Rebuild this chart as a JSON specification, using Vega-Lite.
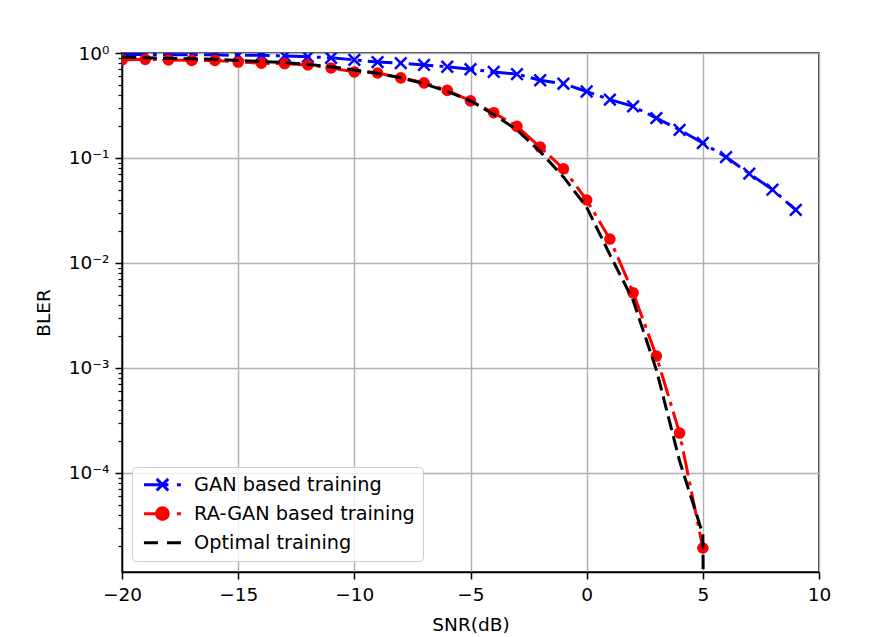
{
  "$schema": "https://vega.github.io/schema/vega-lite/v6.json",
  "width": 697,
  "height": 519,
  "autosize": {"type": "none"},
  "padding": {"left": 122, "top": 53, "right": 77, "bottom": 65},
  "background": "white",
  "config": {
    "font": "DejaVu Sans",
    "view": {"stroke": "black", "strokeWidth": 1.5},
    "legend": {
      "padding": 8,
      "fillColor": "rgba(255,255,255,0.8)",
      "strokeColor": "#cccccc",
      "strokeWidth": 1,
      "cornerRadius": 4,
      "labelFont": "DejaVu Sans",
      "labelFontSize": 19.3,
      "labelColor": "black",
      "labelLimit": 400,
      "symbolStrokeWidth": 3,
      "symbolSize": 100,
      "symbolOffset": 12.8,
      "labelOffset": 22,
      "rowPadding": 4,
      "gridAlign": "all",
      "symbolOpacity": 1
    }
  },
  "data": {
    "values": [
      {"series": "GAN based training", "snr": -20, "bler": 0.97},
      {"series": "GAN based training", "snr": -19, "bler": 0.97},
      {"series": "GAN based training", "snr": -18, "bler": 0.96},
      {"series": "GAN based training", "snr": -17, "bler": 0.96},
      {"series": "GAN based training", "snr": -16, "bler": 0.96},
      {"series": "GAN based training", "snr": -15, "bler": 0.95},
      {"series": "GAN based training", "snr": -14, "bler": 0.95},
      {"series": "GAN based training", "snr": -13, "bler": 0.94},
      {"series": "GAN based training", "snr": -12, "bler": 0.92},
      {"series": "GAN based training", "snr": -11, "bler": 0.9},
      {"series": "GAN based training", "snr": -10, "bler": 0.86},
      {"series": "GAN based training", "snr": -9, "bler": 0.82},
      {"series": "GAN based training", "snr": -8, "bler": 0.8},
      {"series": "GAN based training", "snr": -7, "bler": 0.77},
      {"series": "GAN based training", "snr": -6, "bler": 0.74},
      {"series": "GAN based training", "snr": -5, "bler": 0.7},
      {"series": "GAN based training", "snr": -4, "bler": 0.66},
      {"series": "GAN based training", "snr": -3, "bler": 0.63},
      {"series": "GAN based training", "snr": -2, "bler": 0.55},
      {"series": "GAN based training", "snr": -1, "bler": 0.51},
      {"series": "GAN based training", "snr": 0, "bler": 0.43},
      {"series": "GAN based training", "snr": 1, "bler": 0.36},
      {"series": "GAN based training", "snr": 2, "bler": 0.31},
      {"series": "GAN based training", "snr": 3, "bler": 0.24},
      {"series": "GAN based training", "snr": 4, "bler": 0.185},
      {"series": "GAN based training", "snr": 5, "bler": 0.139},
      {"series": "GAN based training", "snr": 6, "bler": 0.102},
      {"series": "GAN based training", "snr": 7, "bler": 0.071},
      {"series": "GAN based training", "snr": 8, "bler": 0.05},
      {"series": "GAN based training", "snr": 9, "bler": 0.032},
      {"series": "RA-GAN based training", "snr": -20, "bler": 0.86},
      {"series": "RA-GAN based training", "snr": -19, "bler": 0.87},
      {"series": "RA-GAN based training", "snr": -18, "bler": 0.86},
      {"series": "RA-GAN based training", "snr": -17, "bler": 0.85},
      {"series": "RA-GAN based training", "snr": -16, "bler": 0.85},
      {"series": "RA-GAN based training", "snr": -15, "bler": 0.82},
      {"series": "RA-GAN based training", "snr": -14, "bler": 0.8},
      {"series": "RA-GAN based training", "snr": -13, "bler": 0.79},
      {"series": "RA-GAN based training", "snr": -12, "bler": 0.77},
      {"series": "RA-GAN based training", "snr": -11, "bler": 0.72},
      {"series": "RA-GAN based training", "snr": -10, "bler": 0.66},
      {"series": "RA-GAN based training", "snr": -9, "bler": 0.645},
      {"series": "RA-GAN based training", "snr": -8, "bler": 0.58},
      {"series": "RA-GAN based training", "snr": -7, "bler": 0.52},
      {"series": "RA-GAN based training", "snr": -6, "bler": 0.44},
      {"series": "RA-GAN based training", "snr": -5, "bler": 0.35},
      {"series": "RA-GAN based training", "snr": -4, "bler": 0.27},
      {"series": "RA-GAN based training", "snr": -3, "bler": 0.2},
      {"series": "RA-GAN based training", "snr": -2, "bler": 0.127},
      {"series": "RA-GAN based training", "snr": -1, "bler": 0.079},
      {"series": "RA-GAN based training", "snr": 0, "bler": 0.0398},
      {"series": "RA-GAN based training", "snr": 1, "bler": 0.0169},
      {"series": "RA-GAN based training", "snr": 2, "bler": 0.0052},
      {"series": "RA-GAN based training", "snr": 3, "bler": 0.0013},
      {"series": "RA-GAN based training", "snr": 4, "bler": 0.00024},
      {"series": "RA-GAN based training", "snr": 5, "bler": 0.0000193},
      {"series": "Optimal training", "snr": -20, "bler": 0.91},
      {"series": "Optimal training", "snr": -19, "bler": 0.9},
      {"series": "Optimal training", "snr": -18, "bler": 0.89},
      {"series": "Optimal training", "snr": -17, "bler": 0.88},
      {"series": "Optimal training", "snr": -16, "bler": 0.87},
      {"series": "Optimal training", "snr": -15, "bler": 0.85},
      {"series": "Optimal training", "snr": -14, "bler": 0.83},
      {"series": "Optimal training", "snr": -13, "bler": 0.81},
      {"series": "Optimal training", "snr": -12, "bler": 0.78},
      {"series": "Optimal training", "snr": -11, "bler": 0.74},
      {"series": "Optimal training", "snr": -10, "bler": 0.69},
      {"series": "Optimal training", "snr": -9, "bler": 0.64},
      {"series": "Optimal training", "snr": -8, "bler": 0.58},
      {"series": "Optimal training", "snr": -7, "bler": 0.51},
      {"series": "Optimal training", "snr": -6, "bler": 0.43},
      {"series": "Optimal training", "snr": -5, "bler": 0.35},
      {"series": "Optimal training", "snr": -4, "bler": 0.26},
      {"series": "Optimal training", "snr": -3, "bler": 0.185},
      {"series": "Optimal training", "snr": -2, "bler": 0.115},
      {"series": "Optimal training", "snr": -1, "bler": 0.066},
      {"series": "Optimal training", "snr": 0, "bler": 0.034},
      {"series": "Optimal training", "snr": 1, "bler": 0.012},
      {"series": "Optimal training", "snr": 2, "bler": 0.0044},
      {"series": "Optimal training", "snr": 3, "bler": 0.00096},
      {"series": "Optimal training", "snr": 4, "bler": 0.00013},
      {"series": "Optimal training", "snr": 5, "bler": 0.000026},
      {"series": "Optimal training", "snr": 6, "bler": 1e-30}
    ]
  },
  "encoding": {
    "x": {
      "field": "snr",
      "type": "quantitative",
      "title": "SNR(dB)",
      "scale": {"domain": [-20, 10], "nice": false, "zero": false},
      "axis": {
        "values": [-20, -15, -10, -5, 0, 5, 10],
        "format": "d",
        "grid": true,
        "gridColor": "#b0b0b0",
        "gridWidth": 1.4,
        "tickSize": 7,
        "tickWidth": 1.5,
        "tickColor": "black",
        "domainColor": "black",
        "domainWidth": 1.5,
        "labelFontSize": 18.5,
        "labelColor": "black",
        "labelPadding": 6,
        "labelFlush": false,
        "labelOverlap": false,
        "titleFontSize": 18.5,
        "titleFontWeight": "normal",
        "titleColor": "black",
        "titleBaseline": "alphabetic",
        "titleY": 58
      }
    },
    "y": {
      "field": "bler",
      "type": "quantitative",
      "title": "BLER",
      "scale": {"type": "log", "domain": [0.0000114, 1], "nice": false},
      "axis": {
        "values": [0.0001, 0.001, 0.01, 0.1, 1, 0.00002, 0.00003, 0.00004, 0.00005, 0.00006, 0.00007, 0.00008, 0.00009, 0.0002, 0.0003, 0.0004, 0.0005, 0.0006, 0.0007, 0.0008, 0.0009, 0.002, 0.003, 0.004, 0.005, 0.006, 0.007, 0.008, 0.009, 0.02, 0.03, 0.04, 0.05, 0.06, 0.07, 0.08, 0.09, 0.2, 0.3, 0.4, 0.5, 0.6, 0.7, 0.8, 0.9],
        "labelExpr": "datum.value == 1 ? '10⁰' : datum.value == 0.1 ? '10⁻¹' : datum.value == 0.01 ? '10⁻²' : datum.value == 0.001 ? '10⁻³' : datum.value == 0.0001 ? '10⁻⁴' : ''",
        "grid": true,
        "gridColor": "#b0b0b0",
        "gridWidth": 1.4,
        "gridOpacity": {"condition": {"test": "indexof([1, 0.1, 0.01, 0.001, 0.0001], datum.value) >= 0", "value": 1}, "value": 0},
        "tickSize": {"condition": {"test": "indexof([1, 0.1, 0.01, 0.001, 0.0001], datum.value) >= 0", "value": 7}, "value": 4},
        "tickWidth": {"condition": {"test": "indexof([1, 0.1, 0.01, 0.001, 0.0001], datum.value) >= 0", "value": 1.5}, "value": 1.2},
        "tickColor": "black",
        "domainColor": "black",
        "domainWidth": 1.5,
        "labelFontSize": 18.5,
        "labelColor": "black",
        "labelPadding": 6,
        "labelFlush": false,
        "labelOverlap": false,
        "titleFontSize": 18.5,
        "titleFontWeight": "normal",
        "titleColor": "black",
        "titleX": -79,
        "titleY": 259.5,
        "titleAngle": -90,
        "titleAlign": "center",
        "titleBaseline": "middle"
      }
    }
  },
  "layer": [
    {
      "transform": [{"filter": "datum.series === 'GAN based training'"}],
      "mark": {"type": "line", "color": "#0000ff", "strokeWidth": 3, "strokeDash": [24.7, 6.2, 3.9, 6.2], "clip": true}
    },
    {
      "transform": [{"filter": "datum.series === 'GAN based training'"}],
      "mark": {"type": "point", "shape": "M-1,-1L1,1M-1,1L1,-1", "size": 134, "color": "#0000ff", "stroke": "#0000ff", "strokeWidth": 2.5, "filled": false, "opacity": 1, "clip": true}
    },
    {
      "transform": [{"filter": "datum.series === 'RA-GAN based training'"}],
      "mark": {"type": "line", "color": "#ff0000", "strokeWidth": 3, "strokeDash": [24.7, 6.2, 3.9, 6.2], "clip": true}
    },
    {
      "transform": [{"filter": "datum.series === 'RA-GAN based training'"}],
      "mark": {"type": "circle", "size": 135, "color": "#ff0000", "opacity": 1, "clip": true}
    },
    {
      "transform": [{"filter": "datum.series === 'Optimal training'"}],
      "mark": {"type": "line", "color": "#000000", "strokeWidth": 3, "strokeDash": [14.3, 6.2], "clip": true}
    },
    {
      "transform": [{"filter": "false"}],
      "mark": {"type": "point", "size": 100, "strokeWidth": 3, "filled": false, "opacity": 1},
      "encoding": {
        "shape": {
          "field": "series",
          "type": "nominal",
          "title": null,
          "scale": {
            "domain": ["GAN based training", "RA-GAN based training", "Optimal training"],
            "range": [
              "M-3.7,0H1.2M2.9,0H3.7M-1.16,-1.16L1.16,1.16M-1.16,1.16L1.16,-1.16",
              "M-3.7,0H1.2M2.9,0H3.7M-1.16,0A1.16,1.16,0,1,1,1.16,0A1.16,1.16,0,1,1,-1.16,0Z",
              "M-3.7,0H-0.9M0.9,0H3.7"
            ]
          },
          "legend": {"orient": "none", "legendX": 10, "legendY": 414}
        },
        "stroke": {
          "field": "series",
          "type": "nominal",
          "title": null,
          "scale": {
            "domain": ["GAN based training", "RA-GAN based training", "Optimal training"],
            "range": ["#0000ff", "#ff0000", "#000000"]
          },
          "legend": {"orient": "none", "legendX": 10, "legendY": 414}
        },
        "fill": {
          "field": "series",
          "type": "nominal",
          "title": null,
          "scale": {
            "domain": ["GAN based training", "RA-GAN based training", "Optimal training"],
            "range": ["transparent", "#ff0000", "transparent"]
          },
          "legend": {"orient": "none", "legendX": 10, "legendY": 414}
        }
      }
    }
  ]
}
